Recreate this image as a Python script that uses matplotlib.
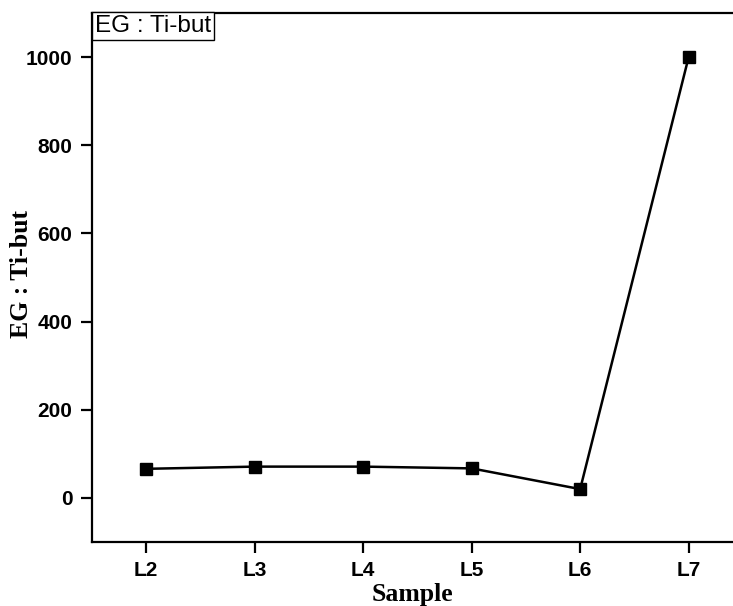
import numpy as np
import matplotlib
matplotlib.use('Agg')
from matplotlib import pyplot as plt

samples = ['L2', 'L3', 'L4', 'L5', 'L6', 'L7']
eg_ti_but = [66, 71, 71, 67, 20, 1000]

fig = plt.figure(figsize=(7.33, 6.06), dpi=100)
ax = fig.add_axes([0.1255, 0.1056, 0.888, 0.873])

x = np.arange(len(samples))
ax.plot(x, eg_ti_but, color='black', lw=1.8, marker='s', markersize=8)

ax.set_xlim(-0.5, 5.5)
ax.set_ylim(-100, 1100)
ax.set_xticks(x)
ax.set_xticklabels(samples)
ax.set_yticks([0, 200, 400, 600, 800, 1000])

for s in ['left', 'bottom', 'top', 'right']:
    ax.spines[s].set_linewidth(1.6)
ax.tick_params(direction='out', length=8, width=1.6, labelsize=15, pad=6)
for lab in ax.get_xticklabels() + ax.get_yticklabels():
    lab.set_fontfamily('Liberation Sans')
    lab.set_fontweight('bold')

ax.set_xlabel('Sample', fontfamily='Liberation Serif', fontweight='bold', fontsize=18.5)
ax.xaxis.set_label_coords(0.4916, -0.077)
ax.set_ylabel('EG : Ti-but', fontfamily='Liberation Serif', fontweight='bold', fontsize=18.5,
              va='center')
ax.yaxis.set_label_coords(-0.108, 0.507)

ax.text(0.004, 0.996, 'EG : Ti-but', transform=ax.transAxes, ha='left', va='top',
        fontfamily='Liberation Sans', fontsize=17.5,
        bbox=dict(boxstyle='square,pad=0.12', facecolor='white', edgecolor='black', lw=1))

fig.savefig('out.png', dpi=100)
